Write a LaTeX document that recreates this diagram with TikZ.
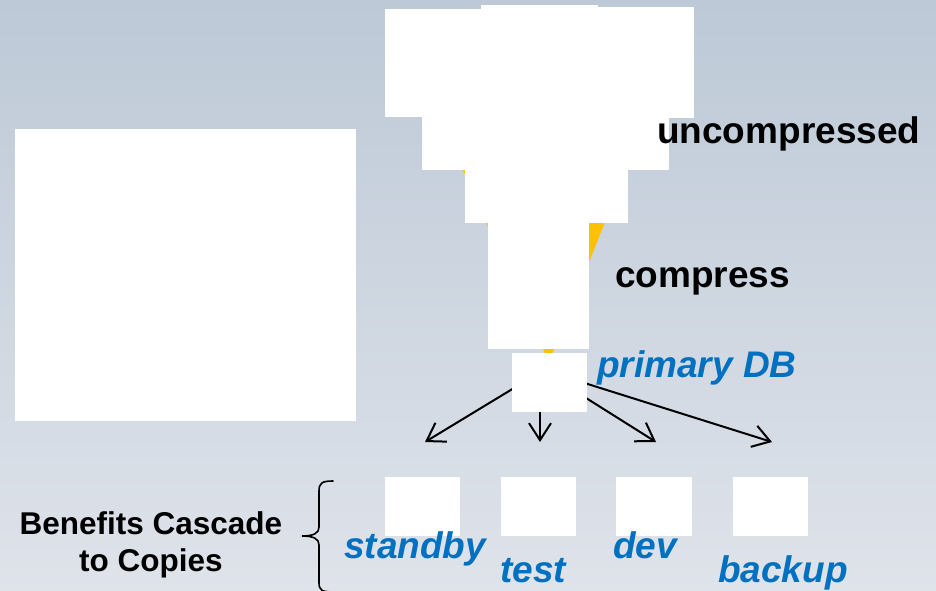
\documentclass[tikz,border=0pt]{standalone}
\usepackage{fontspec}
\setmainfont{Liberation Sans}
\usetikzlibrary{arrows.meta,calc}
\definecolor{bgtop}{HTML}{BDC9D7}
\definecolor{bgbot}{HTML}{DFE3EA}
\definecolor{funnelc}{HTML}{FFC000}
\definecolor{lblue}{HTML}{0070C0}
\pgfdeclarelayer{bglayer}
\pgfdeclarelayer{midlayer}
\pgfsetlayers{bglayer,midlayer,main}
\tikzset{
  img/.style={fill=white, draw=none, inner sep=0pt, outer sep=0pt},
  bigtxt/.style={inner sep=0pt, anchor=base west, font=\fontsize{37}{44}\selectfont\bfseries, text=black},
  bluetxt/.style={inner sep=0pt, anchor=base west, font=\fontsize{37}{44}\selectfont\bfseries\itshape, text=lblue},
  sidetxt/.style={inner sep=0pt, anchor=base, align=center, font=\fontsize{31.5}{37}\selectfont\bfseries, text=black},
  arr/.style={line width=2pt, -{Straight Barb[length=17pt,width=22pt,line width=2pt]}},
  bracestyle/.style={line width=1.6pt, line cap=round}
}
\begin{document}
\begin{tikzpicture}[x=1pt, y=-1pt]
\useasboundingbox (0,0) rectangle (936,591);
\begin{pgfonlayer}{bglayer}
  \shade[top color=bgtop, bottom color=bgbot] (0,0) rectangle (936,591);
\end{pgfonlayer}

% funnel
\fill[funnelc] (392,12) -- (689,12) -- (549,362) -- cycle;

% picture placeholders
\node[img, minimum width=341pt, minimum height=292pt] (leftimg) at (185.5,275) {};
\node[img, minimum width=96pt, minimum height=108pt] (topL) at (433,63) {};
\node[img, minimum width=117pt, minimum height=113pt] (topM) at (539.5,61.5) {};
\node[img, minimum width=96pt, minimum height=111pt] (topR) at (646,62.5) {};
\node[img, minimum width=247pt, minimum height=54pt] (lvltwo) at (545.5,143) {};
\node[img, minimum width=163pt, minimum height=53pt] (lvlthree) at (546.5,196) {};
\node[img, minimum width=101pt, minimum height=127pt] (lvlfour) at (538.5,285) {};
\node[img, minimum width=75pt, minimum height=59pt] (primary) at (549.5,382.5) {};
\node[img, minimum width=75pt, minimum height=59pt] (standbyimg) at (422.5,506.5) {};
\node[img, minimum width=75pt, minimum height=59pt] (testimg) at (538.5,506.5) {};
\node[img, minimum width=76pt, minimum height=59pt] (devimg) at (654,506.5) {};
\node[img, minimum width=75pt, minimum height=59pt] (backupimg) at (770.5,506.5) {};

% arrows (behind the primary box)
\coordinate (t1) at (425,442);
\coordinate (t2) at (540,442);
\coordinate (t3) at (656,442);
\coordinate (t4) at (772,442);
\coordinate (s1) at ($(primary.center)+(0,-16)$);
\coordinate (s2) at ($(primary.center)+(-9.5,0)$);
\coordinate (s3) at ($(primary.center)+(0,-7.5)$);
\coordinate (s4) at ($(primary.center)+(0,-10.5)$);
\begin{pgfonlayer}{midlayer}
  \draw[arr] (s1) -- (t1);
  \draw[arr] (s2) -- (t2);
  \draw[arr] (s3) -- (t3);
  \draw[arr] (s4) -- (t4);
\end{pgfonlayer}

% labels
\node[bigtxt] (uncomp) at (657,143) {uncompressed};
\node[bigtxt] (comp) at (615,287) {compress};
\node[bluetxt] (primlbl) at (597,377) {primary DB};
\node[bluetxt] (standbylbl) at (344,558) {standby};
\node[bluetxt] (testlbl) at (500,582) {test};
\node[bluetxt] (devlbl) at (613,558) {dev};
\node[bluetxt] (backuplbl) at (718,582) {backup};
\node[sidetxt] (benefits) at (151,571) {Benefits Cascade\\to Copies};

% brace
\draw[bracestyle] (333,481) .. controls (322,481) and (319,483) .. (319,491)
  -- (319,527) .. controls (319,533) and (314,536) .. (302,536)
  .. controls (314,536) and (319,539) .. (319,545)
  -- (319,583) .. controls (319,590) and (322,592) .. (333,592);
\end{tikzpicture}
\end{document}
